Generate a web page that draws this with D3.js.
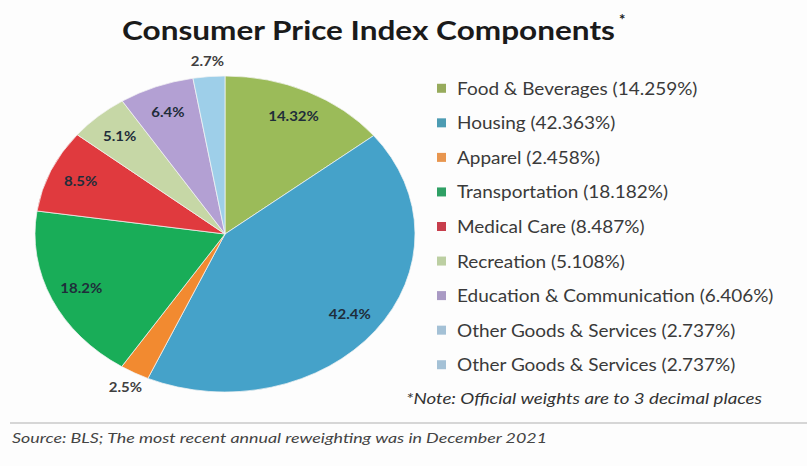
<!DOCTYPE html>
<html>
<head>
<meta charset="utf-8">
<script src="https://cdn.jsdelivr.net/npm/d3@7"></script>
<style>
  html, body { margin: 0; padding: 0; background: #fdfdfd; }
  svg { display: block; font-family: Lato, "Open Sans", sans-serif; }
</style>
</head>
<body>
<svg id="chart" width="807" height="466"></svg>
<script>
// CPI component weights
const categories = ["Food & Beverages", "Housing", "Apparel", "Transportation", "Medical Care",
                    "Recreation", "Education & Communication", "Other Goods & Services"];
const sliceValues = [14.32, 42.4, 2.5, 18.2, 8.5, 5.1, 6.4, 2.7];
const sliceLabels = ["14.32%", "42.4%", "2.5%", "18.2%", "8.5%", "5.1%", "6.4%", "2.7%"];
const outsideLabel = [false, false, true, false, false, false, false, true];
const officialWeights = [14.259, 42.363, 2.458, 18.182, 8.487, 5.108, 6.406, 2.737];
const legendOrder = [0, 1, 2, 3, 4, 5, 6, 7, 7];
const colors = ["#9bbb59", "#45a2c9", "#f28a30", "#19ad58", "#e03a3e", "#c6d7a6", "#b3a0d3", "#9ecfe9"];
const swatchColors = ["#97ab5c", "#4d9cb3", "#e8964f", "#2fa065", "#c73e4c", "#bccfa2", "#a99ac4", "#a4c1d6"];

const svg = d3.select("#chart");
const W = 807, H = 466;
const SX = 1.2;        // horizontal stretch for slice labels
const LEGEND_SX = 1.15; // horizontal stretch for legend entries

svg.append("rect").attr("width", W).attr("height", H).attr("fill", "#fdfdfd");

// text squeezed or stretched to an exact width
function fitText(x, y, str, width, attrs) {
  const t = svg.append("text").attr("x", x).attr("y", y).text(str);
  Object.entries(attrs).forEach(([k, v]) => t.attr(k, v));
  t.attr("textLength", width).attr("lengthAdjust", "spacingAndGlyphs");
  return t;
}

// Title
fitText(122, 40, "Consumer Price Index Components", 493,
  { "font-size": 27, "font-weight": 700, fill: "#1a1a1a" });
svg.append("text")
  .attr("x", 619).attr("y", 25)
  .attr("font-size", 15).attr("font-weight", 700).attr("fill", "#1a1a1a")
  .text("*");

// Pie (drawn as an ellipse)
const cx = 225, cy = 234, rx = 190, ry = 158, ky = ry / rx;
const pie = d3.pie().sort(null).value(d => d);
const arcs = pie(sliceValues);
const arc = d3.arc().innerRadius(0).outerRadius(rx);

const pieG = svg.append("g").attr("transform", `translate(${cx},${cy}) scale(1,${ky})`);
pieG.selectAll("path").data(arcs).join("path")
  .attr("d", arc)
  .attr("fill", (d, i) => colors[i])
  .attr("stroke", "#f4f4f4")
  .attr("stroke-width", 0.8);

// Slice labels
function labelPos(d, i) {
  const a = (d.startAngle + d.endAngle) / 2;
  const r = outsideLabel[i] ? rx * 1.1 : rx * 0.83;
  return [cx + r * Math.sin(a), cy - r * Math.cos(a) * ky];
}
svg.append("g").selectAll("text").data(arcs).join("text")
  .attr("transform", (d, i) => {
    const [x, y] = labelPos(d, i);
    return `translate(${x},${y}) scale(${SX},1)`;
  })
  .attr("text-anchor", "middle")
  .attr("dominant-baseline", "central")
  .attr("font-size", 12.5)
  .attr("font-weight", 700)
  .attr("fill", (d, i) => outsideLabel[i] ? "#404040" : "#1f2d3a")
  .text((d, i) => sliceLabels[i]);

// Legend
const legendY = d3.scaleBand().domain(d3.range(legendOrder.length)).range([71, 382]);
const lg = svg.append("g").selectAll("g").data(legendOrder).join("g")
  .attr("transform", (d, i) => `translate(437,${legendY(i) + legendY.bandwidth() / 2})`);
lg.append("rect")
  .attr("x", 0).attr("y", -4.5).attr("width", 9).attr("height", 9)
  .attr("fill", d => swatchColors[d]);
lg.append("text")
  .attr("transform", `translate(20,0) scale(${LEGEND_SX},1)`)
  .attr("dominant-baseline", "central")
  .attr("font-size", 16.5).attr("fill", "#3a3a3a")
  .text(d => `${categories[d]} (${officialWeights[d].toFixed(3)}%)`);

// Note
fitText(406, 404, "*Note: Official weights are to 3 decimal places", 356,
  { "font-size": 14.5, "font-style": "italic", fill: "#333" });

// Separator
svg.append("line")
  .attr("x1", 10).attr("x2", W).attr("y1", 423).attr("y2", 423)
  .attr("stroke", "#b0b0b0").attr("stroke-width", 1.2);

// Source
fitText(12, 443, "Source: BLS; The most recent annual reweighting was in December 2021", 535,
  { "font-size": 14, "font-style": "italic", fill: "#444" });
</script>
</body>
</html>
